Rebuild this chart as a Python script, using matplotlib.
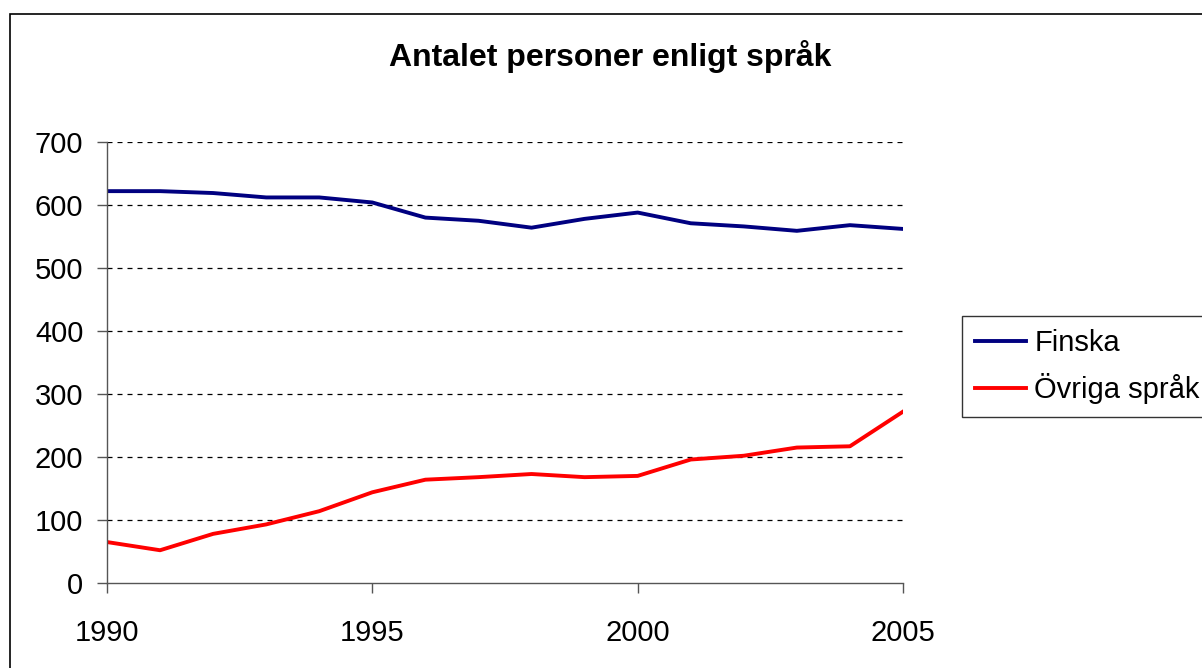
import matplotlib.pyplot as plt
from matplotlib.patches import Rectangle

plt.rcParams['font.family'] = ['Liberation Sans', 'DejaVu Sans']

#data
years = [1990, 1991, 1992, 1993, 1994, 1995, 1996, 1997,
         1998, 1999, 2000, 2001, 2002, 2003, 2004, 2005]
finska = [622, 622, 619, 612, 612, 604, 580, 575,
          564, 578, 588, 571, 566, 559, 568, 562]
ovriga = [65, 52, 78, 93, 114, 144, 164, 168,
          173, 168, 170, 196, 202, 215, 217, 272]
x_ticks = [1990, 1995, 2000, 2005]
y_ticks = [0, 100, 200, 300, 400, 500, 600, 700]

W, H = 1202, 668
fig = plt.figure(figsize=(W / 100, H / 100), dpi=100)

#outer chart border (right and bottom fall outside the picture)
fig.patches.append(Rectangle((10 / W, -0.05), 1.1, 1 - 14 / H + 0.05,
                             transform=fig.transFigure, fill=False,
                             edgecolor='black', linewidth=1.2, clip_on=False))

ax = fig.add_axes([107 / W, 1 - 583 / H, (903 - 107) / W, (583 - 142) / H])

ax.plot(years, finska, color='#000080', linewidth=2.8, label='Finska')
ax.plot(years, ovriga, color='#FF0000', linewidth=2.8, label='Övriga språk')

ax.set_xlim(1990, 2005)
ax.set_ylim(0, 700)
ax.set_xticks(x_ticks)
ax.set_yticks(y_ticks)

#dashed gridlines, not at zero
for v in y_ticks[1:]:
    ax.axhline(v, color='black', linestyle=(0, (4, 4)), linewidth=0.9, zorder=0)

for s in ['top', 'right']:
    ax.spines[s].set_visible(False)
for s in ['left', 'bottom']:
    ax.spines[s].set_color('#555555')
    ax.spines[s].set_linewidth(1.0)

ax.tick_params(axis='both', direction='out', length=7, width=1.0,
               color='#555555', labelsize=21)
ax.tick_params(axis='x', pad=19)
ax.tick_params(axis='y', pad=10)

fig.text(610 / W, 1 - 66 / H, 'Antalet personer enligt språk',
         ha='center', va='baseline', fontsize=23, fontweight='bold')

leg = fig.legend(loc='upper left', bbox_to_anchor=(962 / W, 1 - 316 / H),
                 fontsize=21, frameon=True, fancybox=False, borderpad=0.45,
                 handlelength=1.75, handletextpad=0.28, labelspacing=0.55,
                 borderaxespad=0)
leg.get_frame().set_edgecolor('black')
leg.get_frame().set_linewidth(1.0)

fig.savefig('out.png', dpi=100)
